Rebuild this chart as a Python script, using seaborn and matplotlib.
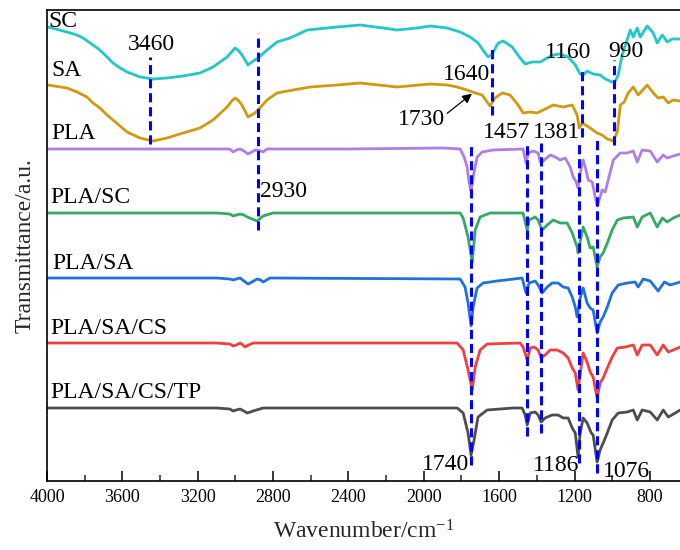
import matplotlib
matplotlib.use("Agg")
import matplotlib.pyplot as plt
from matplotlib.ticker import MultipleLocator
import seaborn as sns
import pandas as pd

# ---------------- data (transmittance in a.u.) ----------------
wn_sc = [3995, 3894, 3841, 3809, 3756, 3719, 3681, 3650, 3612, 3575, 3506, 3437, 3363, 3278,
         3188, 3119, 3044, 3020, 3002, 2986, 2965, 2933, 2906, 2880, 2832, 2779, 2710, 2619,
         2460, 2338, 2216, 2142, 2035, 1966, 1876, 1807, 1754, 1712, 1675, 1658, 1637, 1605,
         1579, 1531, 1489, 1462, 1425, 1382, 1345, 1313, 1276, 1234, 1196, 1170, 1154, 1133,
         1101, 1064, 1037, 1000, 989, 968, 947, 926, 904, 888, 867, 851, 814, 782, 761, 734,
         708, 681, 639]
t_sc = [454, 449, 446, 443, 436, 431, 424, 418, 413, 409, 404, 402, 403, 405,
        408, 414, 424, 429, 433, 431, 426, 416, 420, 423, 431, 439, 443, 451,
        454, 456, 453, 451, 453, 455, 453, 449, 444, 438, 428, 424, 427, 438,
        440, 434, 423, 417, 419, 419, 423, 426, 427, 424, 416, 407, 406, 410,
        407, 406, 402, 399, 398, 406, 426, 438, 451, 444, 453, 444, 455, 448, 438, 446,
        439, 442, 442]

wn_sa = [3995, 3894, 3841, 3788, 3756, 3719, 3681, 3650, 3612, 3575, 3506, 3437, 3363, 3278,
         3188, 3119, 3044, 3020, 3002, 2986, 2965, 2933, 2896, 2880, 2832, 2779, 2694, 2603,
         2460, 2338, 2142, 1966, 1876, 1823, 1770, 1727, 1690, 1664, 1648, 1622, 1584, 1542,
         1499, 1473, 1435, 1398, 1366, 1313, 1260, 1212, 1186, 1175, 1159, 1117, 1080, 1053,
         1026, 994, 973, 957, 936, 915, 888, 862, 814, 782, 756, 729, 702, 676, 639]
t_sa = [396, 393, 389, 384, 378, 373, 366, 361, 355, 349, 343, 340, 343, 348,
        353, 361, 374, 380, 383, 381, 376, 364, 368, 371, 381, 388, 391, 394,
        396, 398, 394, 397, 396, 394, 391, 388, 386, 379, 375, 383, 388, 386,
        376, 368, 369, 368, 371, 376, 374, 376, 366, 353, 358, 353, 348, 346,
        342, 340, 349, 376, 379, 388, 394, 386, 396, 388, 383, 384, 378, 381, 380]

wn_pla = [3995, 3500, 3030, 3012, 2995, 2975, 2955, 2933, 2912, 2895, 2885, 2865, 2853, 2832,
          2400, 1900, 1807, 1786, 1770, 1759, 1749, 1738, 1717, 1690, 1632, 1473, 1457, 1446,
          1419, 1393, 1382, 1366, 1329, 1303, 1276, 1249, 1223, 1207, 1191, 1181, 1170, 1154,
          1143, 1127, 1106, 1090, 1080, 1064, 1053, 1037, 1021, 994, 957, 920, 888, 867, 841,
          798, 761, 729, 708, 676, 639]
t_pla = [332, 332, 332, 329, 331, 332, 330, 327, 329, 331, 331, 330, 329, 332,
         332, 333, 332, 324, 314, 298, 289, 304, 324, 329, 331, 332, 318, 328,
         330, 328, 319, 320, 326, 324, 321, 323, 314, 304, 299, 293, 308, 321,
         314, 301, 299, 284, 275, 284, 291, 289, 301, 321, 328, 328, 330, 319, 331,
         330, 319, 326, 323, 325, 327]

wn_plasc = [3995, 3100, 3030, 3012, 2995, 2975, 2955, 2938, 2910, 2885, 2865, 2853, 2800, 1807,
            1791, 1765, 1743, 1727, 1701, 1648, 1473, 1451, 1441, 1409, 1393, 1372, 1345, 1313,
            1276, 1239, 1212, 1186, 1181, 1165, 1154, 1133, 1117, 1101, 1080, 1064, 1048, 1026,
            1000, 973, 941, 888, 867, 841, 798, 761, 734, 708, 676, 639]
t_plasc = [268, 268, 267, 265, 266, 267, 266, 264, 262, 260, 263, 265, 268, 268,
           263, 244, 219, 251, 264, 268, 268, 251, 261, 264, 261, 251, 256, 261,
           258, 258, 248, 234, 228, 244, 254, 244, 233, 234, 214, 224, 228, 238,
           251, 261, 263, 264, 254, 264, 268, 254, 263, 259, 263, 266]

wn_plasa = [3995, 3100, 3030, 3012, 2995, 2975, 2955, 2933, 2912, 2885, 2865, 2853, 2816, 1807,
            1781, 1765, 1749, 1738, 1717, 1685, 1611, 1478, 1457, 1441, 1409, 1393, 1372, 1345,
            1319, 1287, 1260, 1234, 1212, 1196, 1186, 1170, 1154, 1133, 1117, 1101, 1080, 1064,
            1048, 1026, 1000, 968, 920, 878, 862, 835, 798, 756, 723, 692, 639]
t_plasa = [203, 203, 202, 201, 202, 203, 200, 197, 199, 202, 201, 199, 203, 202,
           194, 178, 155, 174, 193, 198, 200, 203, 188, 198, 200, 196, 188, 194,
           198, 198, 194, 193, 184, 174, 164, 183, 193, 178, 173, 171, 148, 159,
           164, 174, 188, 196, 198, 199, 194, 202, 200, 190, 199, 196, 199]

wn_plasacs = [3995, 3100, 3030, 3012, 2995, 2975, 2960, 2949, 2930, 2906, 1823, 1791, 1765, 1743,
              1727, 1701, 1664, 1489, 1473, 1451, 1435, 1414, 1393, 1377, 1356, 1329, 1292, 1260,
              1234, 1212, 1196, 1181, 1165, 1154, 1133, 1117, 1101, 1080, 1064, 1048, 1026, 1000,
              973, 931, 888, 867, 841, 798, 761, 729, 702, 676, 639]
t_plasacs = [138, 138, 137, 135, 136, 138, 136, 134, 136, 138, 138, 131, 111, 91,
             114, 131, 137, 138, 134, 121, 133, 134, 131, 123, 126, 131, 131, 128,
             123, 113, 108, 91, 114, 128, 119, 109, 104, 83, 98, 103, 113, 124,
             133, 134, 136, 126, 136, 136, 126, 136, 129, 131, 134]

wn_tp = [3995, 3100, 3030, 3012, 2995, 2975, 2955, 2938, 2920, 2906, 2853, 1823, 1791, 1765,
         1749, 1733, 1712, 1664, 1526, 1478, 1462, 1451, 1435, 1409, 1393, 1377, 1356, 1319,
         1287, 1260, 1234, 1212, 1196, 1181, 1170, 1154, 1133, 1111, 1101, 1080, 1064, 1048,
         1026, 1000, 968, 920, 888, 867, 841, 798, 761, 729, 702, 665, 639]
t_tp = [73, 73, 72, 70, 71, 72, 70, 68, 69, 70, 73, 73, 68, 48,
        26, 41, 64, 71, 73, 73, 66, 56, 68, 69, 66, 59, 63, 66,
        66, 63, 63, 53, 48, 24, 48, 63, 58, 48, 46, 19, 31, 38,
        48, 61, 68, 69, 71, 61, 71, 69, 61, 71, 64, 68, 71]

series_names = ["SC", "SA", "PLA", "PLA/SC", "PLA/SA", "PLA/SA/CS", "PLA/SA/CS/TP"]
series_wn = [wn_sc, wn_sa, wn_pla, wn_plasc, wn_plasa, wn_plasacs, wn_tp]
series_t = [t_sc, t_sa, t_pla, t_plasc, t_plasa, t_plasacs, t_tp]
series_colors = ["#22c7c7", "#d09a10", "#b07ee0", "#35a862", "#1f72da", "#ef4040", "#4d4d4d"]
label_wn = [3995, 3979, 3979, 3984, 3973, 3984, 3984]
label_t = [454, 405, 342, 278, 212, 147, 83]

# marker lines: wavenumber, bottom, top
mark_wn = [3453, 2880, 1637, 1159, 989, 1749, 1451, 1377, 1178, 1080]
mark_lo = [337, 251, 366, 344, 336, 16, 45, 48, 18, 8]
mark_hi = [424, 448, 436, 414, 421, 339, 338, 338, 338, 343]

# peak annotations: text, x, y, alignment
ann_text = ["3460", "2930", "1640", "1730", "1457", "1381", "1160", "990", "1740", "1186", "1076"]
ann_x = [3448, 2869, 1897, 2136, 1685, 1419, 1356, 1021, 2009, 1419, 1048]
ann_y = [431, 284, 401, 356, 343, 343, 423, 424, 11, 10, 4]
ann_ha = ["center", "left", "left", "left", "left", "left", "left", "left", "left", "left", "left"]

# ---------------- plotting ----------------
sns.set_theme(style="white")
plt.rcParams["font.family"] = ["Liberation Serif", "DejaVu Serif"]
plt.rcParams["mathtext.fontset"] = "custom"
plt.rcParams["mathtext.rm"] = "Liberation Serif"
plt.rcParams["mathtext.it"] = "Liberation Serif:italic"

fig = plt.figure(figsize=(6.8, 5.5), dpi=100)
ax = fig.add_axes([47 / 680, 1 - 481 / 550, 1 - 47 / 680, (481 - 10) / 550])

for name, wn, t, c in zip(series_names, series_wn, series_t, series_colors):
    df = pd.DataFrame({"wn": wn, "t": t})
    sns.lineplot(data=df, x="wn", y="t", color=c, lw=2.0, estimator=None, sort=False, ax=ax)

for w, lo, hi in zip(mark_wn, mark_lo, mark_hi):
    ax.plot([w, w], [lo, hi], color="#0000ff", lw=2.2, linestyle=(0, (3, 1.6)), zorder=5)

for name, x, y in zip(series_names, label_wn, label_t):
    ax.text(x, y, name, fontsize=17, ha="left", va="baseline", color="black", zorder=6)

for s, x, y, ha in zip(ann_text, ann_x, ann_y, ann_ha):
    ax.text(x, y, s, fontsize=17, ha=ha, va="baseline", color="black", zorder=6)

ax.annotate("", xy=(1733, 389), xytext=(1887, 366),
            arrowprops=dict(arrowstyle="-|>", color="black", lw=0.9, mutation_scale=14))

ax.set_xlim(4000, 640)
ax.set_ylim(0, 471)
ax.xaxis.set_major_locator(MultipleLocator(400))
ax.xaxis.set_minor_locator(MultipleLocator(200))
ax.tick_params(axis="x", which="major", direction="in", length=7, width=1.1,
               labelsize=13, pad=6, bottom=True, colors="black")
ax.tick_params(axis="x", which="minor", direction="in", length=4, width=1.1, bottom=True)
ax.set_yticks([])
ax.set_xlabel("Wavenumber/cm$^{-1}$", fontsize=17, labelpad=10)
ax.set_ylabel("Transmittance/a.u.", fontsize=17, labelpad=8)
for side in ["left", "bottom", "top"]:
    ax.spines[side].set_visible(True)
    ax.spines[side].set_color("black")
    ax.spines[side].set_linewidth(1.2)
ax.spines["right"].set_visible(False)
ax.grid(False)

fig.savefig("out.png", dpi=100)
